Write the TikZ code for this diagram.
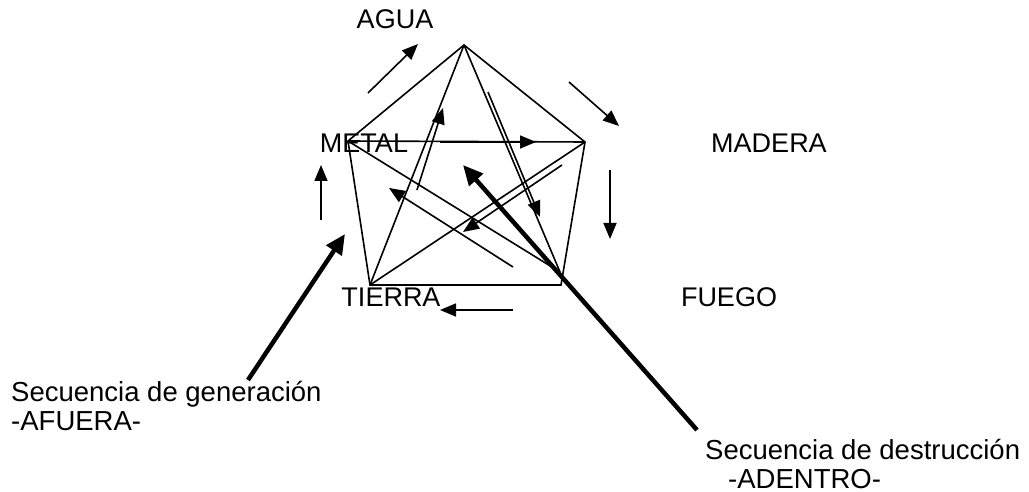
\documentclass[tikz,border=0pt]{standalone}
\usepackage{fontspec}
\setmainfont{Liberation Sans}
\usetikzlibrary{arrows.meta}
\begin{document}
\begin{tikzpicture}[x=1pt,y=-1pt,
  edge/.style={line width=1.6pt, line join=miter},
  arr/.style={line width=1.6pt, -{Triangle[length=16pt,width=13pt]}},
  thickarr/.style={line width=4.5pt, -{Triangle[length=20pt,width=18pt]}},
  lbl/.style={inner sep=0pt, font=\fontsize{27}{29}\selectfont},
  txt/.style={inner sep=0pt, align=left, font=\fontsize{27.5}{29}\selectfont}]
\useasboundingbox (0,0) rectangle (1029,492);
\fill[white] (0,0) rectangle (1029,492);
% pentagon vertices
\coordinate (A) at (464,45);
\coordinate (M) at (348,141);
\coordinate (R) at (585,142);
\coordinate (BR) at (561,285);
\coordinate (BL) at (370,285);
\coordinate (S) at (560,272);
% pentagon
\draw[edge] (A) -- (M) -- (BL) -- (BR) -- (R) -- cycle;
% star
\draw[edge] (A) -- (BL);
\draw[edge] (A) -- (S);
\draw[edge] (M) -- (R);
\draw[edge] (M) -- (S);
\draw[edge] (R) -- (BL);
% inner arrows (destruction)
\coordinate (i1s) at (440,142); \coordinate (i1e) at (536,142);
\coordinate (i2s) at (417,190); \coordinate (i2e) at (443,108);
\coordinate (i3s) at (488,92);  \coordinate (i3e) at (540,217);
\coordinate (i4s) at (562,165); \coordinate (i4e) at (463,232);
\coordinate (i5s) at (513,267); \coordinate (i5e) at (389,188);
\draw[arr] (i1s) -- (i1e);
\draw[arr] (i2s) -- (i2e);
\draw[arr] (i3s) -- (i3e);
\draw[arr] (i4s) -- (i4e);
\draw[arr] (i5s) -- (i5e);
% outer arrows (generation)
\coordinate (o1s) at (368,93);  \coordinate (o1e) at (418,44);
\coordinate (o2s) at (569,82);  \coordinate (o2e) at (619,126);
\coordinate (o3s) at (610,170); \coordinate (o3e) at (610,239);
\coordinate (o4s) at (513,310); \coordinate (o4e) at (440,310);
\coordinate (o5s) at (321,220); \coordinate (o5e) at (321,165);
\draw[arr] (o1s) -- (o1e);
\draw[arr] (o2s) -- (o2e);
\draw[arr] (o3s) -- (o3e);
\draw[arr] (o4s) -- (o4e);
\draw[arr] (o5s) -- (o5e);
% labels
\node[lbl] (agua) at (395,19) {AGUA};
\node[lbl] (metal) at (364,143) {METAL};
\node[lbl] (madera) at (769,143) {MADERA};
\node[lbl] (tierra) at (391,297) {TIERRA};
\node[lbl] (fuego) at (729,297) {FUEGO};
\node[txt, anchor=base west] (gen) at (11,430) {Secuencia de generación\\-AFUERA-};
\node[txt, anchor=base west] (des) at (705,488) {Secuencia de destrucción\\\hspace*{23pt}-ADENTRO-};
% thick pointer arrows
\coordinate (g1) at (248,380); \coordinate (g2) at (345,234);
\coordinate (d1) at (697,430); \coordinate (d2) at (463,165);
\draw[thickarr] (g1) -- (g2);
\draw[thickarr] (d1) -- (d2);
\end{tikzpicture}
\end{document}
